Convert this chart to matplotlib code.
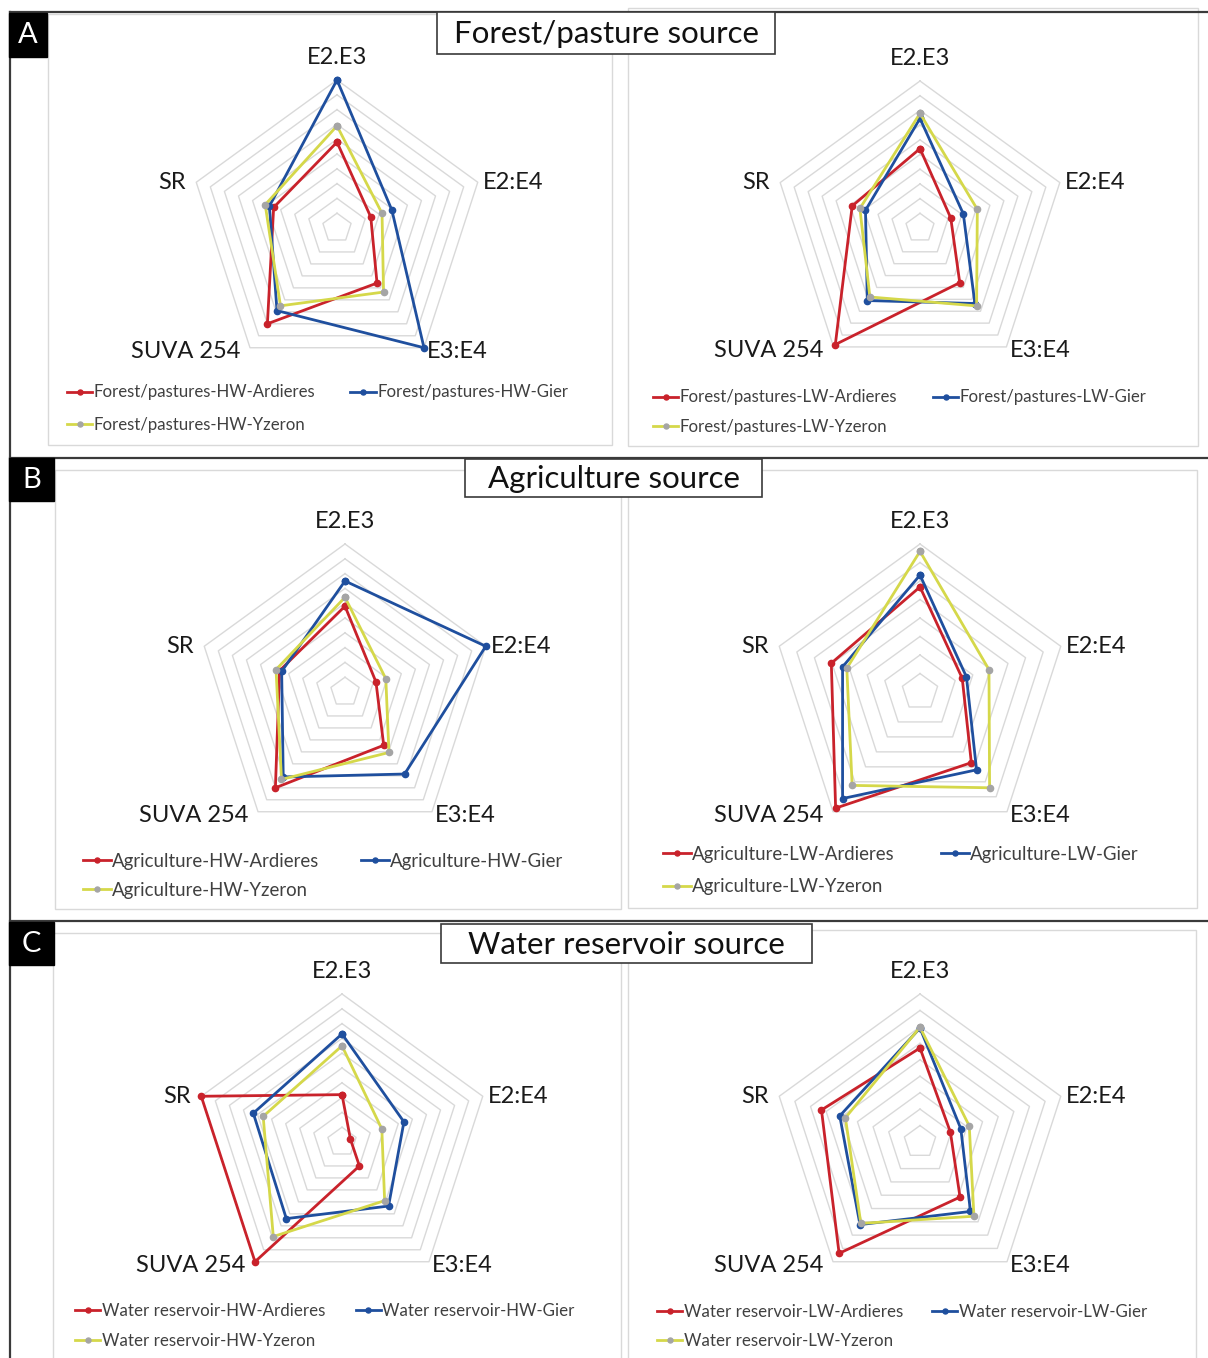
import matplotlib
matplotlib.use('Agg')
import matplotlib.pyplot as plt
import numpy as np
from matplotlib.patches import Rectangle
from matplotlib.lines import Line2D

W, H = 1208, 1358
plt.rcParams['font.family'] = ['Lato', 'DejaVu Sans']

# radar axes, clockwise from the top
categories = ["E2.E3", "E2:E4", "E3:E4", "SUVA 254", "SR"]
sites = ["Ardieres", "Gier", "Yzeron"]

# values relative to each chart's outer ring
forest_hw_ardieres = [0.58, 0.24, 0.46, 0.80, 0.45]
forest_hw_gier = [1.00, 0.39, 1.00, 0.69, 0.48]
forest_hw_yzeron = [0.69, 0.32, 0.535, 0.65, 0.51]

forest_lw_ardieres = [0.54, 0.22, 0.46, 0.98, 0.485]
forest_lw_gier = [0.745, 0.31, 0.635, 0.61, 0.39]
forest_lw_yzeron = [0.78, 0.41, 0.655, 0.58, 0.43]

agri_hw_ardieres = [0.58, 0.22, 0.445, 0.80, 0.465]
agri_hw_gier = [0.75, 1.00, 0.685, 0.71, 0.45]
agri_hw_yzeron = [0.64, 0.29, 0.505, 0.73, 0.49]

agri_lw_ardieres = [0.71, 0.30, 0.59, 0.97, 0.63]
agri_lw_gier = [0.79, 0.33, 0.65, 0.89, 0.55]
agri_lw_yzeron = [0.95, 0.49, 0.80, 0.78, 0.52]

water_hw_ardieres = [0.32, 0.06, 0.20, 1.00, 1.00]
water_hw_gier = [0.73, 0.44, 0.535, 0.64, 0.63]
water_hw_yzeron = [0.65, 0.283, 0.49, 0.79, 0.56]

water_lw_ardieres = [0.635, 0.216, 0.46, 0.93, 0.70]
water_lw_gier = [0.77, 0.29, 0.58, 0.69, 0.57]
water_lw_yzeron = [0.775, 0.35, 0.62, 0.68, 0.53]

RED = '#c9222b'
BLUE = '#1f4f9e'
YELLOW = '#d5d84a'
GRAY = '#a5a5a5'
GRID = '#d9d9d9'
FRAME = '#3a3a3a'

def fx(x):
	return x / W

def fy(y):
	return 1 - y / H

# name, data, centre (px), radius (px), rings,
# legend x, first row centre y, font size, column spacing, label spacing
panels = [
	("Forest/pastures-HW", [forest_hw_ardieres, forest_hw_gier, forest_hw_yzeron], (337, 228), 148, 10, 67, 392, 12.1, 2.1, 1.0),
	("Forest/pastures-LW", [forest_lw_ardieres, forest_lw_gier, forest_lw_yzeron], (920, 228), 147, 10, 653, 397, 12.1, 2.15, 0.82),
	("Agriculture-HW", [agri_hw_ardieres, agri_hw_gier, agri_hw_yzeron], (345, 692), 148, 10, 83, 861, 13.4, 2.2, 0.66),
	("Agriculture-LW", [agri_lw_ardieres, agri_lw_gier, agri_lw_yzeron], (920, 692), 148, 8, 663, 854, 13.4, 2.45, 0.85),
	("Water reservoir-HW", [water_hw_ardieres, water_hw_gier, water_hw_yzeron], (342, 1142), 148, 10, 75, 1311, 12.2, 1.8, 0.78),
	("Water reservoir-LW", [water_lw_ardieres, water_lw_gier, water_lw_yzeron], (920, 1142), 148, 9, 657, 1312, 12.2, 1.7, 0.72),
]

# label offsets in pixels from each outer vertex
label_style = [
	((0, 12), 'center', 'bottom'),
	((5, 0), 'left', 'center'),
	((3, -4), 'left', 'center'),
	((-10, -4), 'right', 'center'),
	((-10, 0), 'right', 'center'),
]

fig = plt.figure(figsize=(W / 100, H / 100), dpi=100)

# light chart-area boxes
for (x0, y0, x1, y1) in [(48, 14, 612, 445), (628, 8, 1198, 446), (55, 470, 621, 909),
						 (628, 470, 1197, 908), (53, 933, 621, 1370), (628, 930, 1196, 1370)]:
	fig.add_artist(Rectangle((fx(x0), fy(y1)), fx(x1 - x0), (y1 - y0) / H, transform=fig.transFigure,
							 fill=False, edgecolor=GRID, lw=1.0, zorder=0))

theta = np.linspace(0, 2 * np.pi, len(categories), endpoint=False)
theta_c = np.append(theta, theta[0])

for name, data, (cx, cy), R, rings, lx, ly, lfs, cs, ls in panels:
	ax = fig.add_axes([fx(cx - R), fy(cy + R), 2 * R / W, 2 * R / H], projection='polar')
	ax.set_theta_offset(np.pi / 2)
	ax.set_theta_direction(-1)
	ax.set_ylim(0, 1)
	ax.set_axis_off()

	for lev in np.arange(1, rings + 1) / rings:
		ax.plot(theta_c, [lev] * len(theta_c), color=GRID, lw=1.0, zorder=1, clip_on=False)

	handles = []
	for vals, lc, mc in zip(data, [RED, BLUE, YELLOW], [RED, BLUE, GRAY]):
		v = np.append(vals, vals[0])
		h, = ax.plot(theta_c, v, color=lc, lw=2.0, marker='o', ms=4.5, mfc=mc, mec=mc,
					 clip_on=False, zorder=3)
		handles.append(h)

	for t, lab, (off, ha, va) in zip(theta, categories, label_style):
		ax.annotate(lab, xy=(t, 1.0), xytext=off, textcoords='offset pixels', ha=ha, va=va,
					fontsize=17, color='#1a1a1a')

	labels = [name + '-' + s for s in sites]
	order = [0, 2, 1]
	top = ly - 0.45 * lfs * 100 / 72
	ax.legend([handles[i] for i in order], [labels[i] for i in order], loc='upper left',
			  bbox_to_anchor=(fx(lx), fy(top)), bbox_transform=fig.transFigure, ncol=2,
			  frameon=False, fontsize=lfs, handlelength=1.5, handletextpad=0.08,
			  columnspacing=cs, labelspacing=ls, borderpad=0, borderaxespad=0,
			  labelcolor='#404040', markerscale=0.8)

# black frame lines
for (x0, y0, x1, y1) in [(10, 12, 1208, 12), (10, 12, 10, 1358), (10, 458, 1208, 458), (10, 921, 1208, 921)]:
	fig.add_artist(Line2D([fx(x0), fx(x1)], [fy(y0), fy(y1)], transform=fig.transFigure,
						  color=FRAME, lw=1.6, zorder=5))

# row letters
for letter, (x0, y0, x1, y1) in [("A", (9, 13, 47, 57)), ("B", (9, 458, 54, 501)), ("C", (9, 922, 54, 965))]:
	fig.add_artist(Rectangle((fx(x0), fy(y1)), fx(x1 - x0), (y1 - y0) / H, transform=fig.transFigure,
							 facecolor='black', edgecolor='black', zorder=6))
	fig.text(fx((x0 + x1) / 2), fy((y0 + y1) / 2), letter, color='white', fontsize=21,
			 ha='center', va='center', zorder=7)

# section titles
for title, (x0, y0, x1, y1) in [("Forest/pasture source", (437, 12, 775, 54)),
								("Agriculture source", (465, 459, 762, 497)),
								("Water reservoir source", (441, 924, 812, 963))]:
	fig.add_artist(Rectangle((fx(x0), fy(y1)), fx(x1 - x0), (y1 - y0) / H, transform=fig.transFigure,
							 facecolor='white', edgecolor=FRAME, lw=1.2, zorder=6))
	fig.text(fx((x0 + x1) / 2), fy((y0 + y1) / 2 + 1), title, color='#111111', fontsize=22.5,
			 ha='center', va='center', zorder=7)

fig.savefig('out.png', dpi=100)
